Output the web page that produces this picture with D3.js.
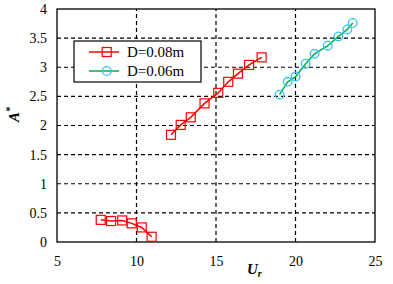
<!DOCTYPE html>
<html>
<head>
<meta charset="utf-8">
<script src="https://cdnjs.cloudflare.com/ajax/libs/d3/7.8.5/d3.min.js"></script>
<style>
  html, body { margin: 0; padding: 0; background: #fff; }
  svg { display: block; }
</style>
</head>
<body>
<svg id="chart" width="393" height="284"></svg>
<script>
// datos
const seriesNames = ['D=0.08m', 'D=0.06m'];

// D=0.08m, rama baja
const urLow = [7.75, 8.4, 9.1, 9.7, 10.33, 10.95];
const aLow = [0.38, 0.36, 0.37, 0.32, 0.25, 0.09];

// D=0.08m, rama alta
const urHigh = [12.17, 12.78, 13.41, 14.28, 15.14, 15.77, 16.38, 17.08, 17.87];
const aHigh = [1.84, 2.01, 2.14, 2.38, 2.56, 2.75, 2.89, 3.04, 3.17];

// D=0.06m
const urSmall = [19.0, 19.51, 20.01, 20.64, 21.2, 22.03, 22.7, 23.26, 23.6];
const aSmall = [2.53, 2.75, 2.84, 3.06, 3.23, 3.37, 3.53, 3.65, 3.76];

const xTicks = [5, 10, 15, 20, 25];
const yTicks = [0, 0.5, 1, 1.5, 2, 2.5, 3, 3.5, 4];

const zip = (xs, ys) => xs.map((x, i) => ({ x: x, y: ys[i] }));

const RED = '#ff0000';
const CYAN = '#33c3ee';
const GREEN = '#00b050';
const FONT = "'Liberation Serif'";

const svg = d3.select('#chart');
const margin = { left: 57, right: 18, top: 9, bottom: 42 };
const W = 393, H = 284;

const x = d3.scaleLinear().domain([5, 25]).range([margin.left, W - margin.right]);
const y = d3.scaleLinear().domain([0, 4]).range([H - margin.bottom, margin.top]);

// rejilla discontinua
const grid = svg.append('g');
grid.selectAll('line.gx')
  .data(xTicks.filter(t => t > 5 && t < 25))
  .join('line')
  .attr('x1', d => x(d)).attr('x2', d => x(d))
  .attr('y1', y(0)).attr('y2', y(4))
  .attr('stroke', '#000').attr('stroke-width', 1.2)
  .attr('stroke-dasharray', '4,3');
grid.selectAll('line.gy')
  .data(yTicks.filter(t => t > 0 && t < 4))
  .join('line')
  .attr('y1', d => y(d)).attr('y2', d => y(d))
  .attr('x1', x(5)).attr('x2', x(25))
  .attr('stroke', '#000').attr('stroke-width', 1.2)
  .attr('stroke-dasharray', '4,3');

// ejes
const xAxis = svg.append('g')
  .attr('transform', `translate(0,${y(0)})`)
  .call(d3.axisBottom(x).tickValues(xTicks).tickSize(0).tickPadding(14));
const yAxis = svg.append('g')
  .attr('transform', `translate(${x(5)},0)`)
  .call(d3.axisLeft(y).tickValues(yTicks).tickSize(0).tickPadding(10).tickFormat(d3.format('')));
[xAxis, yAxis].forEach(a => {
  a.attr('font-family', null).attr('font-size', null);
  a.select('.domain').remove();
  a.selectAll('text')
    .style('font-family', FONT)
    .style('font-size', '14px')
    .attr('fill', '#000');
});

// marco
svg.append('rect')
  .attr('x', x(5)).attr('y', y(4))
  .attr('width', x(25) - x(5)).attr('height', y(0) - y(4))
  .attr('fill', 'none').attr('stroke', '#000').attr('stroke-width', 1.3);

const line = d3.line().x(d => x(d.x)).y(d => y(d.y));

function drawSquares(data) {
  svg.append('path').datum(data)
    .attr('d', line).attr('fill', 'none')
    .attr('stroke', RED).attr('stroke-width', 1.5);
  svg.append('g').selectAll('rect')
    .data(data).join('rect')
    .attr('x', d => x(d.x) - 4.5).attr('y', d => y(d.y) - 4.5)
    .attr('width', 9).attr('height', 9)
    .attr('fill', 'none').attr('stroke', RED).attr('stroke-width', 1.2);
}

function drawCircles(data) {
  svg.append('path').datum(data)
    .attr('d', line).attr('fill', 'none')
    .attr('stroke', GREEN).attr('stroke-width', 1.5);
  svg.append('g').selectAll('circle')
    .data(data).join('circle')
    .attr('cx', d => x(d.x)).attr('cy', d => y(d.y))
    .attr('r', 4.3)
    .attr('fill', 'none').attr('stroke', CYAN).attr('stroke-width', 1.3);
}

drawSquares(zip(urLow, aLow));
drawSquares(zip(urHigh, aHigh));
drawCircles(zip(urSmall, aSmall));

// leyenda
const lg = svg.append('g');
lg.append('rect')
  .attr('x', 74).attr('y', 41).attr('width', 127).attr('height', 41)
  .attr('fill', '#fff').attr('stroke', '#000').attr('stroke-width', 1.2);
const rows = [
  { name: seriesNames[0], ly: 52, lc: RED },
  { name: seriesNames[1], ly: 71, lc: GREEN }
];
rows.forEach((r, i) => {
  lg.append('line')
    .attr('x1', 89).attr('x2', 119).attr('y1', r.ly).attr('y2', r.ly)
    .attr('stroke', r.lc).attr('stroke-width', 1.5);
  if (i === 0) {
    lg.append('rect')
      .attr('x', 106.7 - 4.5).attr('y', r.ly - 4.5).attr('width', 9).attr('height', 9)
      .attr('fill', 'none').attr('stroke', RED).attr('stroke-width', 1.2);
  } else {
    lg.append('circle')
      .attr('cx', 106.7).attr('cy', r.ly).attr('r', 4.3)
      .attr('fill', 'none').attr('stroke', CYAN).attr('stroke-width', 1.3);
  }
  lg.append('text')
    .attr('x', 127).attr('y', r.ly + 5)
    .style('font-family', FONT).style('font-size', '15px')
    .text(r.name);
});

// títulos de ejes
const xt = svg.append('text')
  .attr('x', 247).attr('y', 274)
  .style('font-family', FONT).style('font-size', '15px')
  .style('font-style', 'italic').style('font-weight', 'bold');
xt.append('tspan').text('U');
xt.append('tspan').style('font-size', '10px').attr('dy', 3).text('r');

const yt = svg.append('text')
  .attr('transform', 'translate(19,122) rotate(-90)')
  .style('font-family', FONT).style('font-size', '15px')
  .style('font-style', 'italic').style('font-weight', 'bold');
yt.append('tspan').text('A');
yt.append('tspan').style('font-size', '10px').attr('dy', -6).text('*');
</script>
</body>
</html>
